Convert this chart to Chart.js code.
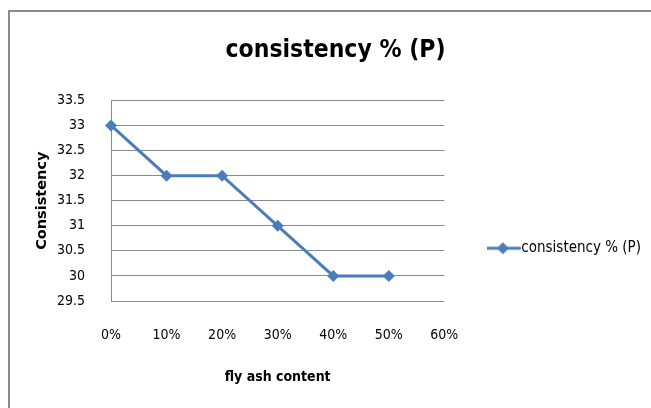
<!DOCTYPE html>
<html>
<head>
<meta charset="utf-8">
<script src="https://cdn.jsdelivr.net/npm/chart.js@4/dist/chart.umd.min.js"></script>
<style>
  html, body { margin: 0; padding: 0; background: #fff; overflow: hidden; }
  #frame {
    position: absolute; left: 8px; top: 10px; width: 680px; height: 420px;
    border: 2px solid #8a8a8a;
  }
  #wrap { position: absolute; left: 0; top: 0; width: 651px; height: 408px; }
</style>
</head>
<body>
<div id="frame"></div>
<div id="wrap"><canvas id="consistencyChart"></canvas></div>
<script>
const flyAshLabels = ['0%', '10%', '20%', '30%', '40%', '50%', '60%'];
const consistencyValues = [33, 32, 32, 31, 30, 30, null];
const yTicks = { min: 29.5, max: 33.5, step: 0.5 };

const seriesName = 'consistency % (P)';
const lineColor = '#4a7ebb';
const narrowFont = "'DejaVu Sans Condensed', 'Liberation Sans', sans-serif";

// little line + diamond swatch for the legend
function makeLegendSwatch() {
    const c = document.createElement('canvas');
    c.width = 44;
    c.height = 14;
    const g = c.getContext('2d');
    g.strokeStyle = lineColor;
    g.lineWidth = 3;
    g.beginPath();
    g.moveTo(0, 7);
    g.lineTo(34, 7);
    g.stroke();
    g.fillStyle = lineColor;
    g.beginPath();
    g.moveTo(16, 1);
    g.lineTo(22, 7);
    g.lineTo(16, 13);
    g.lineTo(10, 7);
    g.closePath();
    g.fill();
    return c;
}

function initConsistencyChart() {
    const ctx = document.getElementById('consistencyChart').getContext('2d');
    const swatch = makeLegendSwatch();

    new Chart(ctx, {
        type: 'line',
        data: {
            labels: flyAshLabels,
            datasets: [{
                label: seriesName,
                data: consistencyValues,
                borderColor: lineColor,
                backgroundColor: lineColor,
                borderWidth: 3,
                pointStyle: 'rectRot',
                pointRadius: 6,
                pointBorderWidth: 0,
                tension: 0
            }]
        },
        options: {
            responsive: true,
            maintainAspectRatio: false,
            animation: false,
            // left padding pushes the title centre to the frame centre
            layout: { padding: { left: 20, right: 0, top: 0, bottom: 0 } },
            plugins: {
                title: {
                    display: true,
                    text: seriesName,
                    color: '#000',
                    font: { family: narrowFont, size: 24.5, weight: 'bold' },
                    padding: { top: 36, bottom: 35 }
                },
                legend: {
                    position: 'right',
                    align: 'center',
                    maxWidth: 207,
                    title: { display: true, text: '', padding: { top: 74, bottom: 0 } },
                    labels: {
                        color: '#000',
                        font: { family: narrowFont, size: 15 },
                        usePointStyle: true,
                        pointStyleWidth: 10,
                        padding: 59.5,
                        generateLabels: function(chart) {
                            return [{
                                text: seriesName,
                                fontColor: '#000',
                                pointStyle: swatch,
                                fillStyle: lineColor,
                                strokeStyle: lineColor,
                                lineWidth: 0,
                                hidden: false,
                                datasetIndex: 0
                            }];
                        }
                    }
                },
                tooltip: { enabled: false }
            },
            scales: {
                x: {
                    offset: false,
                    grid: { display: false, drawTicks: false },
                    border: { display: false },
                    ticks: {
                        color: '#000',
                        padding: 25.5,
                        maxRotation: 0,
                        autoSkip: false,
                        font: { family: narrowFont, size: 14 }
                    },
                    title: {
                        display: true,
                        text: 'fly ash content',
                        color: '#000',
                        font: { family: narrowFont, size: 14, weight: 'bold' },
                        padding: { top: 0, bottom: 22 }
                    },
                    afterFit: function(scale) { scale.height = 107; }
                },
                y: {
                    min: yTicks.min,
                    max: yTicks.max,
                    grid: { color: '#8a8a8a', lineWidth: 1, drawTicks: false },
                    border: { display: true, color: '#8a8a8a', width: 1 },
                    ticks: {
                        stepSize: yTicks.step,
                        color: '#000',
                        padding: 26,
                        font: { family: narrowFont, size: 14 },
                        callback: function(value) { return value; }
                    },
                    title: {
                        display: true,
                        text: 'Consistency',
                        color: '#000',
                        font: { family: "'DejaVu Sans', sans-serif", size: 14.5, weight: 'bold' },
                        padding: { top: 14, bottom: 0 }
                    },
                    afterFit: function(scale) { scale.width = 91; }
                }
            }
        }
    });
}

document.addEventListener('DOMContentLoaded', initConsistencyChart);
</script>
</body>
</html>
